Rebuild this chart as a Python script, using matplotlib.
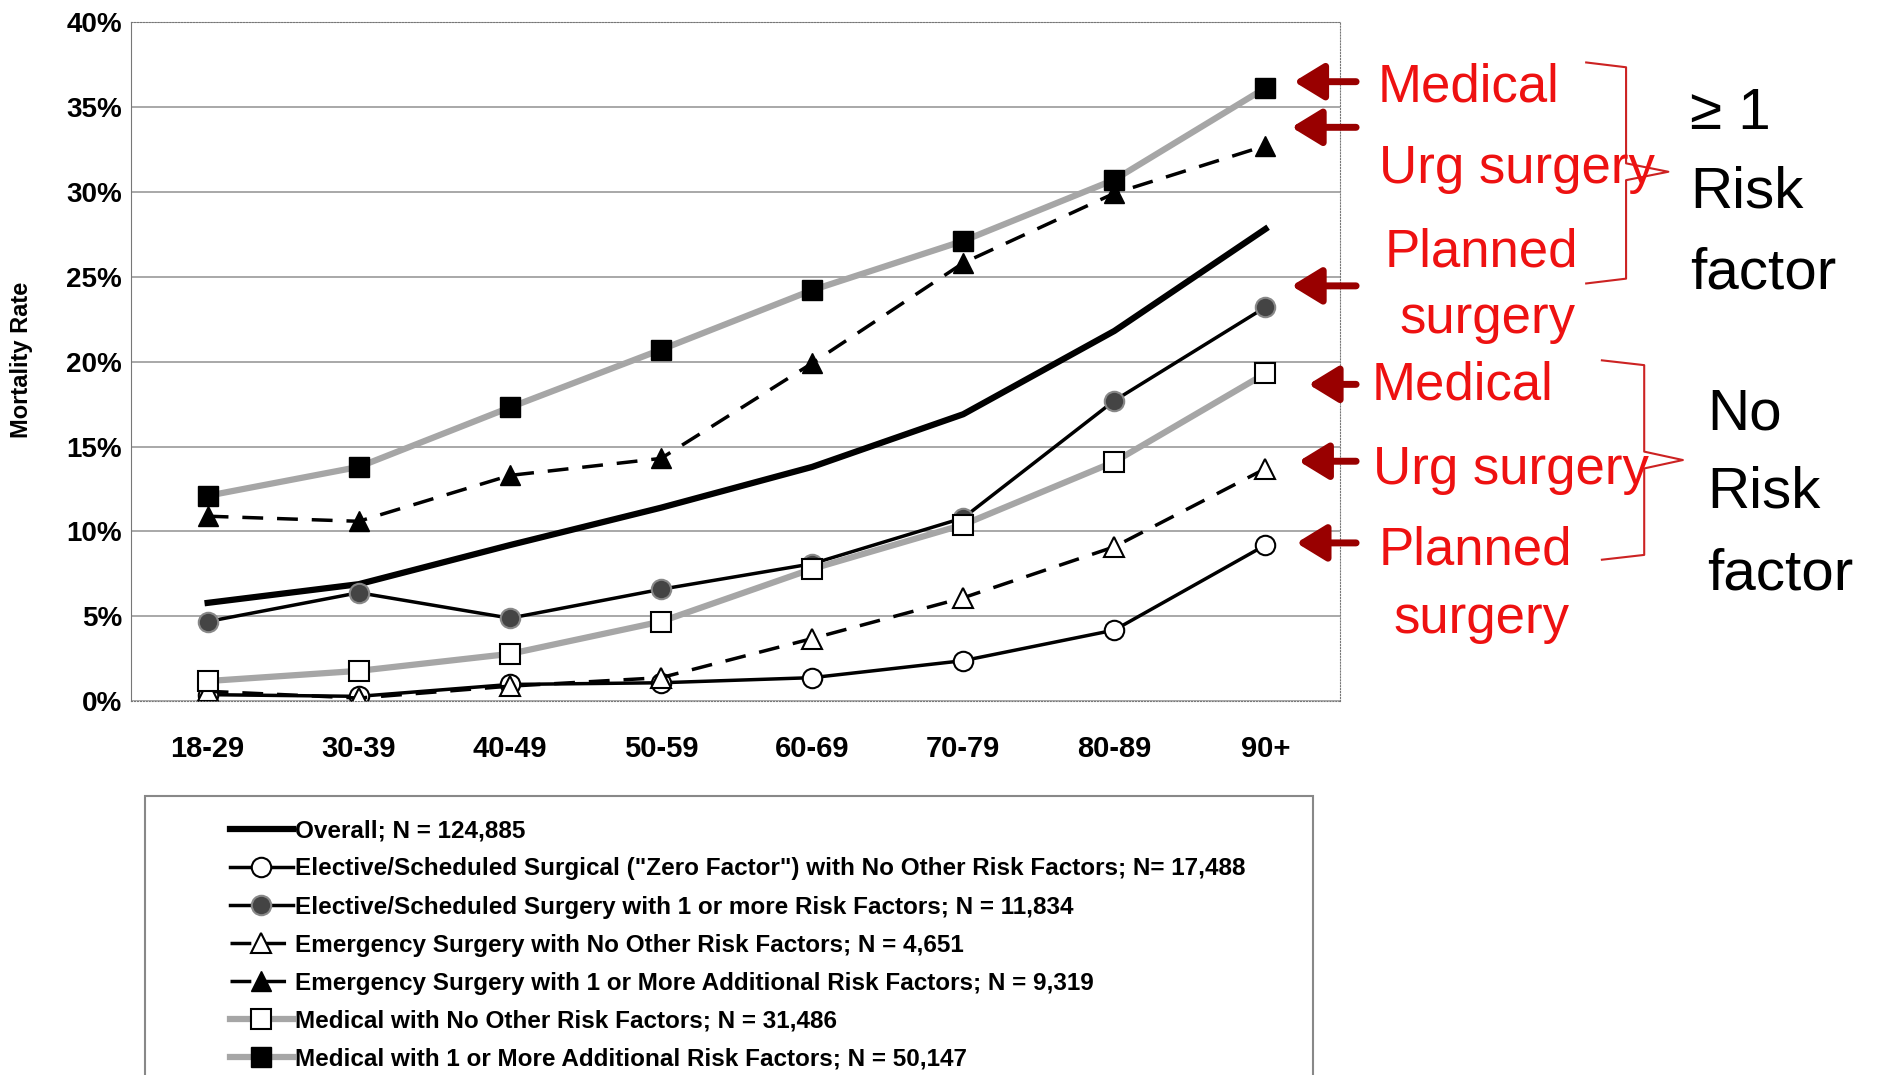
import matplotlib.pyplot as plt
from matplotlib.lines import Line2D
from matplotlib.patches import Rectangle, FancyArrowPatch

plt.rcParams['font.family'] = ['Liberation Sans', 'DejaVu Sans']

ages = ["18-29", "30-39", "40-49", "50-59", "60-69", "70-79", "80-89", "90+"]
overall = [5.8, 6.9, 9.2, 11.4, 13.8, 16.9, 21.8, 27.8]
elective_zero = [0.4, 0.3, 1.0, 1.1, 1.4, 2.4, 4.2, 9.2]
elective_risk = [4.7, 6.4, 4.9, 6.6, 8.1, 10.8, 17.7, 23.2]
emerg_zero = [0.6, 0.2, 0.9, 1.4, 3.7, 6.1, 9.1, 13.7]
emerg_risk = [10.9, 10.6, 13.3, 14.3, 19.9, 25.8, 29.9, 32.7]
medical_zero = [1.2, 1.8, 2.8, 4.7, 7.8, 10.4, 14.1, 19.3]
medical_risk = [12.1, 13.8, 17.3, 20.7, 24.2, 27.1, 30.7, 36.1]

labels = [
    "Overall; N = 124,885",
    "Elective/Scheduled Surgical (\"Zero Factor\") with No Other Risk Factors; N= 17,488",
    "Elective/Scheduled Surgery with 1 or more Risk Factors; N = 11,834",
    "Emergency Surgery with No Other Risk Factors; N = 4,651",
    "Emergency Surgery with 1 or More Additional Risk Factors; N = 9,319",
    "Medical with No Other Risk Factors; N = 31,486",
    "Medical with 1 or More Additional Risk Factors; N = 50,147",
]

W, H = 1560.0, 895.0


def fx(x):
    return x / W


def fy(y):
    return 1 - y / H


fig = plt.figure(figsize=(18.86, 10.75), dpi=100)
ax = fig.add_axes([fx(108), fy(584), fx(1108) - fx(108), fy(18) - fy(584)])

x = list(range(len(ages)))
grey = "#a6a6a6"
styles = [
    (overall, dict(color="black", lw=4.5)),
    (elective_zero, dict(color="black", lw=2.5, marker="o", ms=14, mfc="white", mec="black", mew=1.5)),
    (elective_risk, dict(color="black", lw=2.5, marker="o", ms=14, mfc="#444444", mec="#888888", mew=1.5)),
    (emerg_zero, dict(color="black", lw=2.5, ls=(0, (6, 4)), marker="^", ms=14, mfc="white", mec="black", mew=1.5)),
    (emerg_risk, dict(color="black", lw=2.5, ls=(0, (6, 4)), marker="^", ms=14, mfc="black", mec="black")),
    (medical_zero, dict(color=grey, lw=4.5, marker="s", ms=15, mfc="white", mec="black", mew=1.5)),
    (medical_risk, dict(color=grey, lw=4.5, marker="s", ms=15, mfc="black", mec="black")),
]
handles = []
for vals, st in styles:
    h, = ax.plot(x, vals, **st)
    handles.append(h)

ax.set_xlim(-0.51, 7.49)
ax.set_ylim(0, 40)
ax.set_yticks(range(0, 41, 5))
ax.set_yticklabels([f"{v}%" for v in range(0, 41, 5)], fontsize=20, fontweight="bold")
ax.set_xticks(x)
ax.set_xticklabels(ages, fontsize=21, fontweight="bold")
ax.tick_params(axis="x", length=0, pad=24)
ax.tick_params(axis="y", length=0, pad=6)
ax.grid(axis="y", color="#999999", lw=1.2)
ax.set_axisbelow(True)
for s in ["top", "right", "bottom"]:
    ax.spines[s].set_linestyle(":")
for s in ax.spines.values():
    s.set_color("#777777")
fig.text(fx(18), fy(300), "Mortality Rate", rotation=90, ha="center", va="center",
         fontsize=17, fontweight="bold")

# legend
fig.patches.append(Rectangle((fx(120), fy(900)), fx(1086) - fx(120), fy(663) - fy(900),
                             transform=fig.transFigure, fill=False, ec="#888888", lw=1.5))
fig.legend(handles, labels, loc="upper left", bbox_to_anchor=(fx(172), fy(664)),
           frameon=False, handlelength=2.6, handletextpad=0.1,
           labelspacing=0.62, prop=dict(weight="bold", size=17.5))

# annotations
red = "#ee1111"
dark = "#990000"
red_texts = [("Medical", 1215, 73), ("Urg surgery", 1255, 141), ("Planned", 1225, 210),
             ("surgery", 1230, 266), ("Medical", 1210, 321), ("Urg surgery", 1250, 391),
             ("Planned", 1220, 458), ("surgery", 1225, 515)]
for t, px, py in red_texts:
    fig.text(fx(px), fy(py), t, color=red, fontsize=38, ha="center", va="center")

arrows = [(1068, 68), (1066, 106), (1066, 238), (1080, 320), (1072, 384), (1070, 452)]
for tx, ty in arrows:
    fig.add_artist(FancyArrowPatch(
        (fx(1124), fy(ty)), (fx(tx), fy(ty)), transform=fig.transFigure,
        arrowstyle="-|>,head_length=0.9,head_width=0.55", mutation_scale=20,
        color=dark, lw=5))

brackets = [
    ([1312, 1345, 1345, 1380, 1345, 1345, 1312], [52, 56, 136, 143, 150, 232, 236]),
    ([1325, 1360, 1360, 1392, 1360, 1360, 1325], [300, 304, 376, 383, 390, 462, 466]),
]
for bx, by in brackets:
    fig.add_artist(Line2D([fx(v) for v in bx], [fy(v) for v in by], color="#cc2222", lw=1.5))

black_texts = [("≥ 1", 1398, 95), ("Risk", 1398, 160), ("factor", 1398, 228),
               ("No", 1412, 345), ("Risk", 1412, 410), ("factor", 1412, 478)]
for t, px, py in black_texts:
    fig.text(fx(px), fy(py), t, color="black", fontsize=42, ha="left", va="center")

fig.savefig("out.png", dpi=100)
